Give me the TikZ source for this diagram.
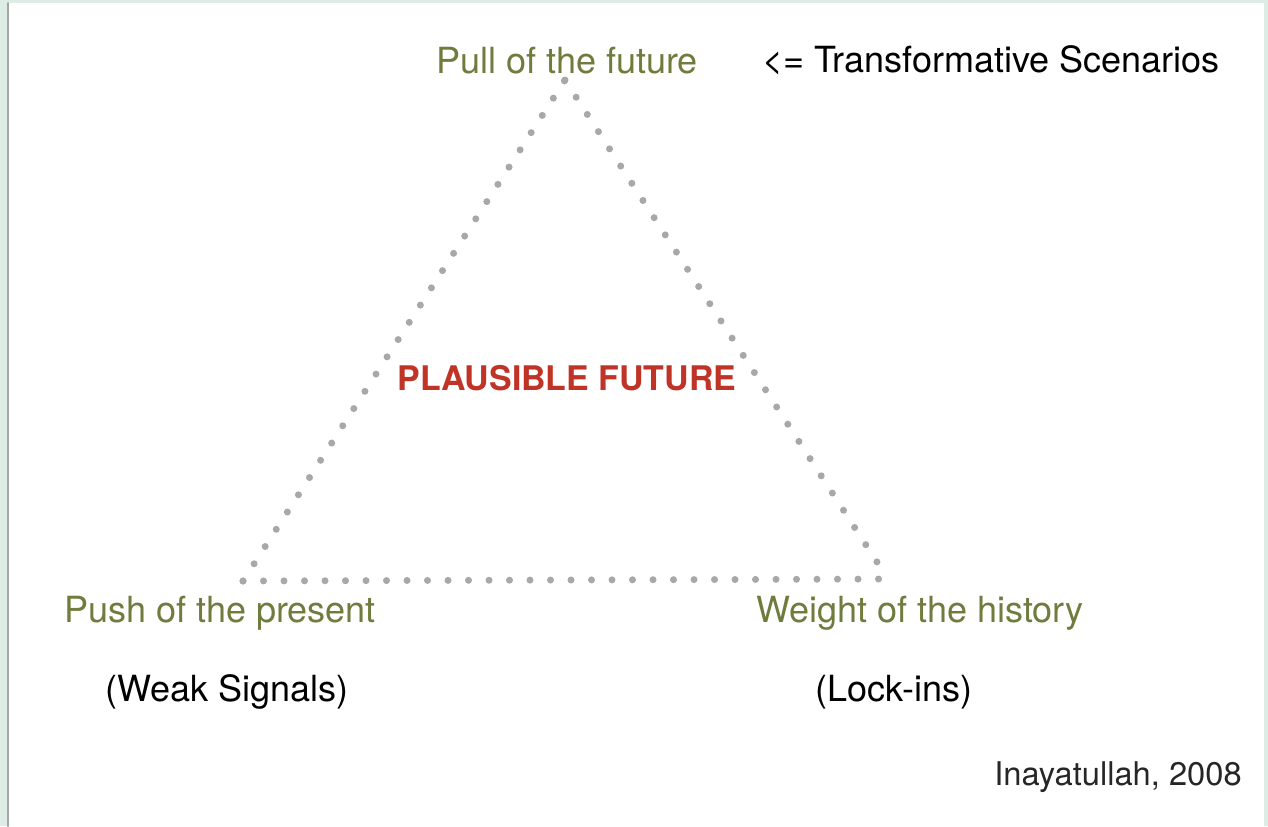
\documentclass[tikz,border=0pt]{standalone}
\usepackage{fontspec}
\setmainfont{TeX Gyre Heros}
\usetikzlibrary{positioning}
\definecolor{olive}{RGB}{112,124,62}
\definecolor{plausred}{RGB}{192,52,40}
\definecolor{dotgray}{RGB}{168,168,168}
\definecolor{framegreen}{RGB}{221,237,230}
\tikzset{
  corner/.style={text=olive,anchor=base,inner sep=0pt,font=\fontsize{20.5}{24}\selectfont},
  note/.style={text=black,anchor=base,inner sep=0pt,font=\fontsize{20.5}{24}\selectfont},
  dotline/.style={draw=dotgray,line width=7*0.02cm,line cap=round,dash pattern=on 0pt off 20.5*0.02cm}
}
\begin{document}
\begin{tikzpicture}[line cap=round,line join=round,x=0.02cm,y=-0.02cm]
\useasboundingbox (0,0) rectangle (1268,826);
\fill[framegreen] (0,0) rectangle (1268,826);
\fill[white] (8,3) rectangle (1264,826);
\draw[gray!70,line width=2*0.02cm] (8,3)-- (8,826);
\coordinate (apex) at (565,80);
\coordinate (left) at (243,581);
\coordinate (right) at (888,579);
\draw[dotline] (apex)-- (right);
\draw[dotline] (left)-- (apex);
\draw[dotline] (left)-- (right);
\node[corner] (pull) at (567,73) {Pull of the future};
\node[note] (transform) at (991,72) {<= Transformative Scenarios};
\node[text=plausred,anchor=base,inner sep=0pt,font=\bfseries\fontsize{19.3}{23}\selectfont] (plausible) at (567,390) {PLAUSIBLE FUTURE};
\node[corner] (push) at (220,622) {Push of the present};
\node[corner] (weight) at (920,622) {Weight of the history};
\node[note] (weak) at (227,701) {(Weak Signals)};
\node[note] (lock) at (894,701) {(Lock-ins)};
\node[note,font=\fontsize{18.6}{22}\selectfont,text=black!85] (source) at (1118,785) {Inayatullah, 2008};
\end{tikzpicture}
\end{document}
